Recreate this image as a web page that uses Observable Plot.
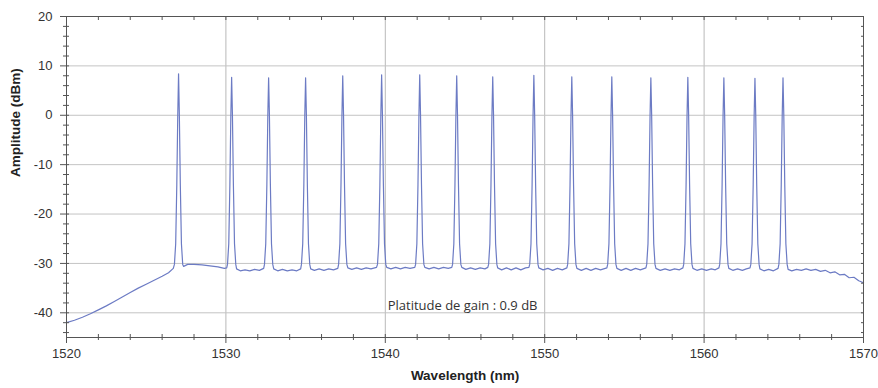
<!DOCTYPE html>
<html>
<head>
<meta charset="utf-8">
<script src="https://cdn.jsdelivr.net/npm/d3@7"></script>
<script src="https://cdn.jsdelivr.net/npm/@observablehq/plot@0.6"></script>
<style>
  html, body { margin: 0; padding: 0; background: #fff; }
  #chart { width: 878px; height: 388px; }
</style>
</head>
<body>
<div id="chart"></div>
<script>
// Channel centre wavelengths (nm) and peak levels (dBm)
const peakWavelengths = [1527.03, 1530.36, 1532.68, 1535.0, 1537.33, 1539.77, 1542.16, 1544.48, 1546.74, 1549.32, 1551.7, 1554.21, 1556.66, 1558.98, 1561.24, 1563.19, 1564.95];
const peakLevels      = [8.4, 7.7, 7.6, 7.6, 8.0, 8.2, 8.2, 8.0, 7.8, 8.1, 7.8, 7.8, 7.6, 7.7, 7.6, 7.5, 7.6];
// Shape of a channel line: [offset from centre (nm), level (dBm)]; null = peak level
const peakProfile = [[-0.26, -30.2], [-0.18, -26], [-0.11, -14], [-0.05, 0], [0, null], [0.05, 0], [0.11, -14], [0.18, -26], [0.26, -30.2]];
// ASE floor: [wavelength (nm), level (dBm)]
const floorPoints = [
  [1520.0,-42.0],[1520.5,-41.5],[1521.0,-40.9],[1521.5,-40.2],[1522.0,-39.4],[1522.5,-38.6],[1523.0,-37.7],[1523.5,-36.8],[1524.0,-35.9],[1524.5,-35.0],[1525.0,-34.2],[1525.5,-33.4],[1526.0,-32.6],[1526.4,-31.9],[1526.7,-31.0],
  [1527.35,-30.6],[1527.6,-30.2],[1528.0,-30.2],[1528.5,-30.3],[1529.0,-30.5],[1529.5,-30.7],[1529.9,-31.0],[1530.05,-30.9],
  [1530.67,-31.1],[1530.9,-31.5],[1531.2,-31.3],[1531.5,-31.5],[1531.8,-31.2],[1532.1,-31.4],[1532.37,-31.0],
  [1533.0,-31.1],[1533.25,-31.5],[1533.55,-31.2],[1533.85,-31.5],[1534.15,-31.3],[1534.45,-31.5],[1534.69,-31.1],
  [1535.32,-31.1],[1535.55,-31.4],[1535.85,-31.1],[1536.15,-31.4],[1536.45,-31.1],[1536.75,-31.3],[1537.02,-31.0],
  [1537.65,-30.9],[1537.9,-31.2],[1538.2,-30.9],[1538.5,-31.2],[1538.8,-30.9],[1539.1,-31.1],[1539.45,-30.8],
  [1540.09,-30.8],[1540.35,-31.1],[1540.65,-30.8],[1540.95,-31.1],[1541.25,-30.8],[1541.55,-31.0],[1541.85,-30.8],
  [1542.48,-30.8],[1542.75,-31.1],[1543.05,-30.8],[1543.35,-31.1],[1543.65,-30.8],[1543.95,-31.0],[1544.17,-30.8],
  [1544.8,-30.8],[1545.05,-31.2],[1545.35,-30.9],[1545.65,-31.2],[1545.95,-30.9],[1546.25,-31.1],[1546.43,-30.8],
  [1547.05,-30.9],[1547.3,-31.3],[1547.6,-30.9],[1547.9,-31.3],[1548.2,-30.9],[1548.5,-31.3],[1548.8,-30.9],[1549.01,-30.8],
  [1549.63,-30.9],[1549.9,-31.3],[1550.2,-31.0],[1550.5,-31.4],[1550.8,-31.0],[1551.1,-31.3],[1551.39,-30.9],
  [1552.02,-31.0],[1552.3,-31.4],[1552.6,-31.0],[1552.9,-31.4],[1553.2,-31.0],[1553.5,-31.3],[1553.9,-30.9],
  [1554.53,-31.0],[1554.8,-31.4],[1555.1,-31.0],[1555.4,-31.4],[1555.7,-31.0],[1556.0,-31.3],[1556.35,-30.9],
  [1556.98,-31.0],[1557.25,-31.4],[1557.55,-31.1],[1557.85,-31.4],[1558.15,-31.1],[1558.45,-31.3],[1558.67,-30.9],
  [1559.3,-31.0],[1559.55,-31.4],[1559.85,-31.1],[1560.15,-31.4],[1560.45,-31.1],[1560.7,-31.3],[1560.93,-30.9],
  [1561.55,-31.0],[1561.8,-31.4],[1562.1,-31.1],[1562.4,-31.4],[1562.65,-31.1],[1562.88,-30.9],
  [1563.5,-31.1],[1563.75,-31.5],[1564.05,-31.2],[1564.35,-31.5],[1564.64,-31.0],
  [1565.27,-31.2],[1565.5,-31.5],[1565.8,-31.2],[1566.1,-31.4],[1566.4,-31.1],[1566.7,-31.4],[1567.0,-31.2],[1567.3,-31.6],[1567.6,-31.4],[1567.9,-31.9],[1568.2,-31.7],[1568.5,-32.3],[1568.8,-32.2],[1569.1,-32.9],[1569.4,-32.8],[1569.7,-33.5],[1570.0,-33.9]
];
// Axes
const xDomain = [1520, 1570];
const yDomain = [-45, 20];
const xMajorTicks = [1520, 1530, 1540, 1550, 1560, 1570];
const xMinorTicks = [1522, 1524, 1526, 1528, 1532, 1534, 1536, 1538, 1542, 1544, 1546, 1548, 1552, 1554, 1556, 1558, 1562, 1564, 1566, 1568];
const yMajorTicks = [-40, -30, -20, -10, 0, 10, 20];
const yMinorTicks = [-44, -42, -38, -36, -34, -32, -28, -26, -24, -22, -18, -16, -14, -12, -8, -6, -4, -2, 2, 4, 6, 8, 12, 14, 16, 18];
const xGrid = [1530, 1540, 1550, 1560];
const yGrid = [-40, -30, -20, -10, 0, 10];
const xLabel = "Wavelength (nm)";
const yLabel = "Amplitude (dBm)";
const note = [{text: "Platitude de gain : 0.9 dB", wavelength: 1540.15, level: -38.6}];

// Build the trace from the floor points and the channel lines
const trace = floorPoints.map(([w, a]) => ({w, a}));
peakWavelengths.forEach((c, i) => {
  peakProfile.forEach(([dw, a]) => trace.push({w: c + dw, a: a === null ? peakLevels[i] : a}));
});
trace.sort((p, q) => p.w - q.w);

const tickColor = "#555";
const blank = () => "";

const chart = Plot.plot({
  width: 878,
  height: 388,
  marginLeft: 66,
  marginRight: 15,
  marginTop: 16,
  marginBottom: 51,
  style: {fontFamily: "Liberation Sans, Arial, sans-serif", fontSize: "13px", color: "#333", background: "#fff"},
  x: {domain: xDomain},
  y: {domain: yDomain},
  marks: [
    Plot.gridX(xGrid, {stroke: "#b9b9b9", strokeOpacity: 1}),
    Plot.gridY(yGrid, {stroke: "#c4c4c4", strokeOpacity: 1}),
    Plot.line(trace, {x: "w", y: "a", stroke: "#6c7bc4", strokeWidth: 1.2, curve: "linear"}),
    Plot.frame({stroke: tickColor}),
    // tick labels
    Plot.axisX(xMajorTicks, {anchor: "bottom", tickSize: 0, tickPadding: 11, tickFormat: d => String(d), fontSize: 13, label: null}),
    Plot.axisY(yMajorTicks, {anchor: "left", tickSize: 0, tickPadding: 14, tickFormat: d => String(d), fontSize: 13, label: null}),
    // tick marks on all sides
    Plot.axisX(xMinorTicks, {anchor: "bottom", tickSize: 6, dy: -3, tickFormat: blank, stroke: tickColor, label: null}),
    Plot.axisX(xMajorTicks, {anchor: "bottom", tickSize: 9, dy: -3, tickFormat: blank, stroke: tickColor, label: null}),
    Plot.axisX(xMinorTicks.concat(xMajorTicks), {anchor: "top", tickSize: 3, dy: 3, tickFormat: blank, stroke: tickColor, label: null}),
    Plot.axisY(yMinorTicks, {anchor: "left", tickSize: 6, dx: 3, tickFormat: blank, stroke: tickColor, label: null}),
    Plot.axisY(yMajorTicks, {anchor: "left", tickSize: 9, dx: 3, tickFormat: blank, stroke: tickColor, label: null}),
    Plot.axisY(yMinorTicks.concat(yMajorTicks), {anchor: "right", tickSize: 3, dx: -3, tickFormat: blank, stroke: tickColor, label: null}),
    // axis titles
    Plot.text([xLabel], {frameAnchor: "bottom", dy: 42, fontWeight: "bold", fontSize: 13.5, fill: "#222"}),
    Plot.text([yLabel], {frameAnchor: "left", dx: -51, rotate: -90, fontWeight: "bold", fontSize: 13.5, fill: "#222"}),
    // annotation
    Plot.text(note, {x: "wavelength", y: "level", text: "text", textAnchor: "start", fontSize: 13, fill: "#333", fontFamily: "Open Sans, Noto Sans, sans-serif"})
  ]
});
document.getElementById("chart").appendChild(chart);
</script>
</body>
</html>
